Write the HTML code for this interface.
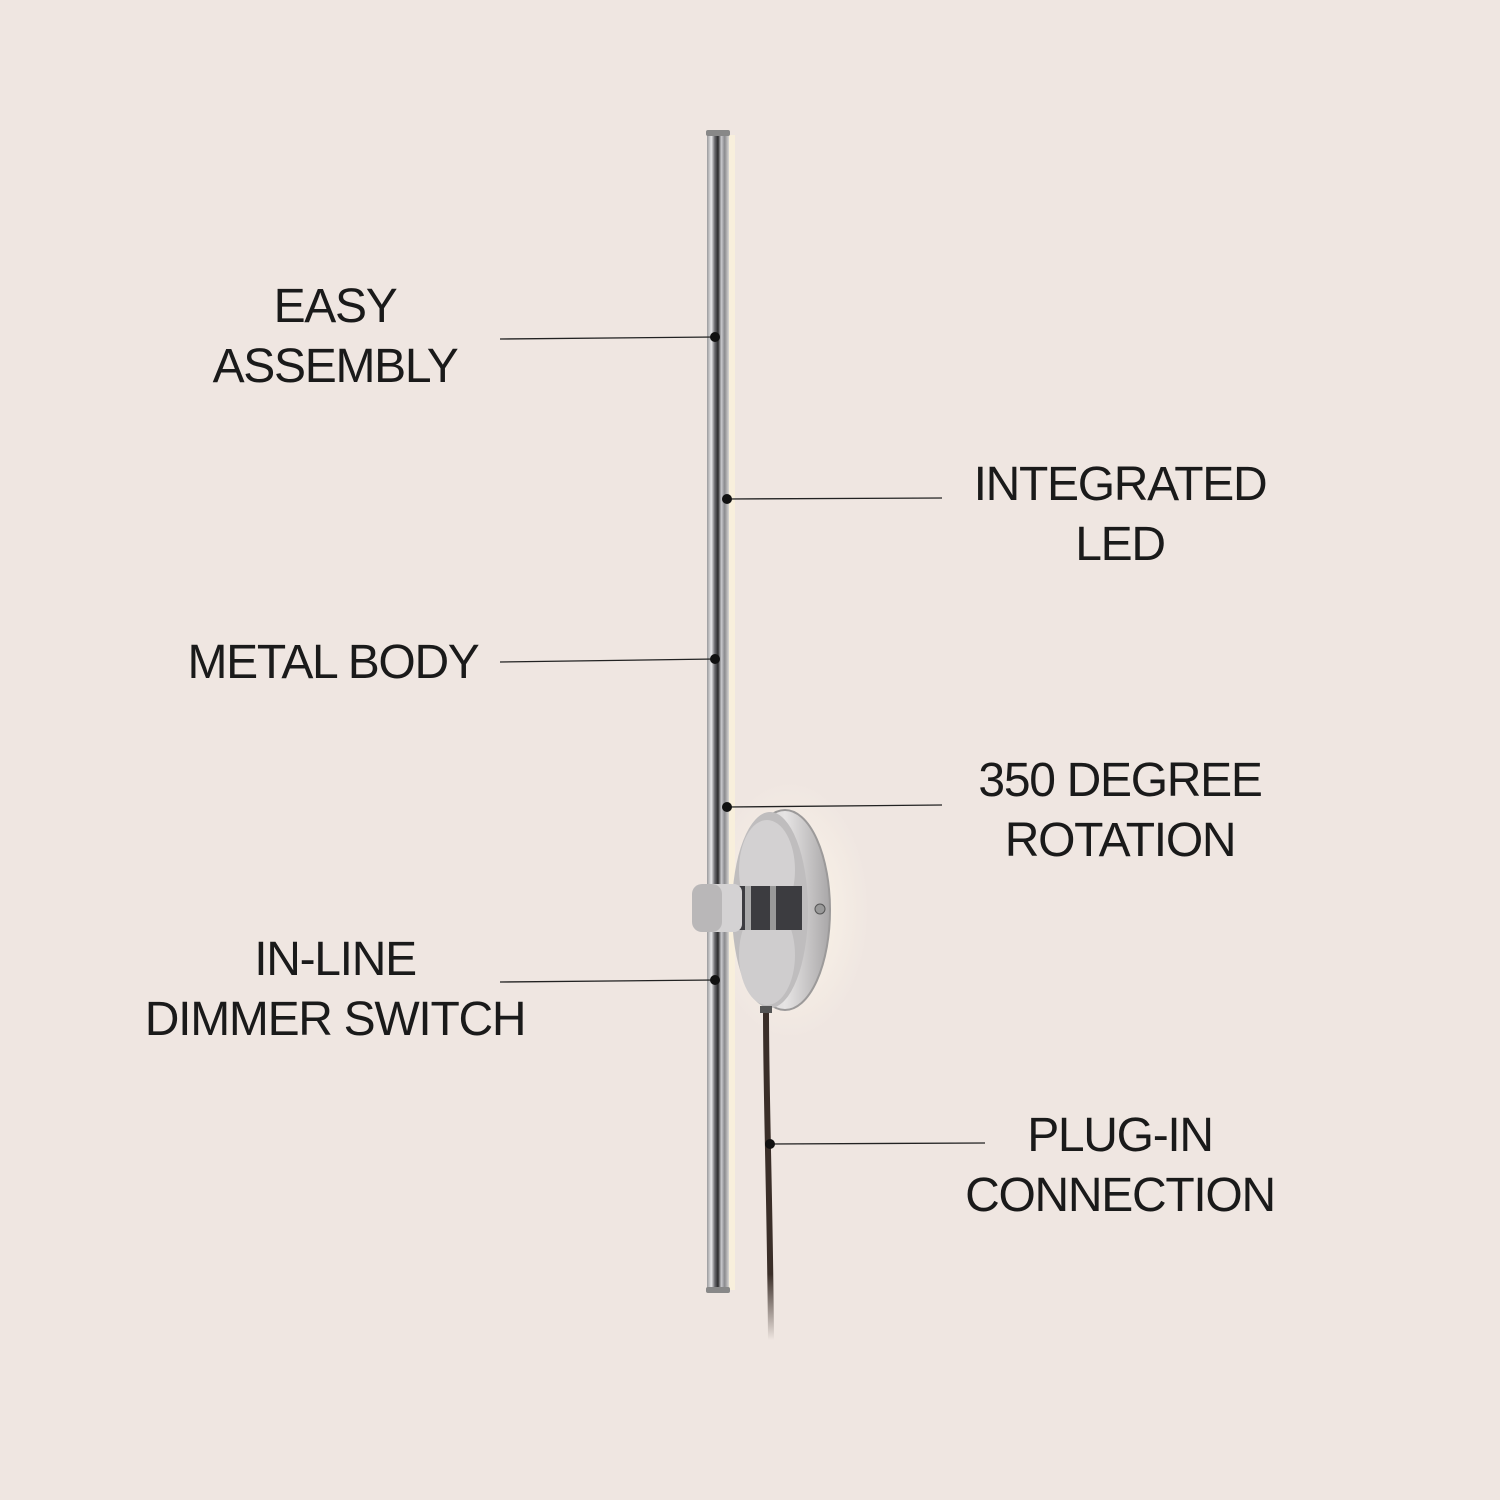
<!DOCTYPE html>
<html><head><style>
html,body{margin:0;padding:0;background:#efe6e1;}
svg{display:block}
text{font-family:"Liberation Sans",sans-serif;font-size:48px;fill:#1a1a1a;text-anchor:middle;letter-spacing:-1.3px}
</style></head><body>
<svg width="1500" height="1500" viewBox="0 0 1500 1500">
<defs>
<linearGradient id="rod" x1="0" x2="1">
<stop offset="0" stop-color="#9a9a9c"/><stop offset="0.2" stop-color="#e8e8ea"/><stop offset="0.35" stop-color="#6c6c70"/><stop offset="0.5" stop-color="#2a2a2c"/><stop offset="0.65" stop-color="#c8c8cc"/><stop offset="0.8" stop-color="#8a8a8e"/><stop offset="1" stop-color="#d8d6d4"/>
</linearGradient>
<linearGradient id="cable" x1="0" y1="0" x2="0" y2="1">
<stop offset="0" stop-color="#3a2e28"/><stop offset="0.8" stop-color="#3a2e28"/><stop offset="1" stop-color="#3a2e28" stop-opacity="0"/>
</linearGradient>
<linearGradient id="plate" x1="0" x2="1">
<stop offset="0" stop-color="#c9c7c8"/><stop offset="0.5" stop-color="#e6e4e4"/><stop offset="1" stop-color="#a9a7a8"/>
</linearGradient>
<radialGradient id="glow" cx="0.5" cy="0.5" r="0.5"><stop offset="0" stop-color="#fff8ea" stop-opacity="0.9"/><stop offset="1" stop-color="#fff8ea" stop-opacity="0"/></radialGradient>
</defs>
<rect width="1500" height="1500" fill="#efe6e1"/>
<ellipse cx="790" cy="910" rx="80" ry="130" fill="url(#glow)"/>
<rect x="727" y="135" width="8" height="1155" fill="#f8efdc"/>
<path d="M766 1010 C766 1100 770 1200 771 1340" stroke="url(#cable)" stroke-width="6" fill="none"/>
<ellipse cx="785" cy="910" rx="45" ry="100" fill="url(#plate)" stroke="#9c9a9a" stroke-width="2"/>
<ellipse cx="770" cy="910" rx="38" ry="98" fill="#bfbdbe"/>
<ellipse cx="767" cy="870" rx="28" ry="50" fill="#d3d1d2"/>
<ellipse cx="767" cy="955" rx="28" ry="50" fill="#cfcdce"/>
<circle cx="820" cy="909" r="5" fill="#999" stroke="#555"/>
<rect x="760" y="1006" width="12" height="7" fill="#555"/>
<rect x="707" y="132" width="22" height="1160" fill="url(#rod)"/>
<rect x="706" y="130" width="24" height="6" rx="2" fill="#888"/>
<rect x="706" y="1287" width="24" height="6" rx="2" fill="#888"/>
<rect x="730" y="886" width="72" height="44" fill="#3c3c40"/>
<rect x="745" y="886" width="6" height="44" fill="#aaa"/><rect x="770" y="886" width="6" height="44" fill="#999"/>
<rect x="702" y="884" width="40" height="48" rx="8" fill="#d4d2d3"/>
<rect x="692" y="884" width="30" height="48" rx="10" fill="#b9b7b8"/>
<g stroke="#222" stroke-width="1.3">
<line x1="500" y1="339" x2="715" y2="337"/>
<line x1="727" y1="499" x2="942" y2="498"/>
<line x1="500" y1="662" x2="715" y2="659"/>
<line x1="727" y1="807" x2="942" y2="805"/>
<line x1="500" y1="982" x2="715" y2="980"/>
<line x1="770" y1="1144" x2="985" y2="1143"/>
</g>
<g fill="#111">
<circle cx="715" cy="337" r="5"/><circle cx="727" cy="499" r="5"/><circle cx="715" cy="659" r="5"/>
<circle cx="727" cy="807" r="5"/><circle cx="715" cy="980" r="5"/><circle cx="770" cy="1144" r="5"/>
</g>
<text x="335" y="322">EASY</text>
<text x="335" y="382">ASSEMBLY</text>
<text x="1120" y="500">INTEGRATED</text>
<text x="1120" y="560">LED</text>
<text x="333" y="678">METAL BODY</text>
<text x="1120" y="796">350 DEGREE</text>
<text x="1120" y="856">ROTATION</text>
<text x="335" y="975">IN-LINE</text>
<text x="335" y="1035">DIMMER SWITCH</text>
<text x="1120" y="1151">PLUG-IN</text>
<text x="1120" y="1211">CONNECTION</text>
</svg>
</body></html>
